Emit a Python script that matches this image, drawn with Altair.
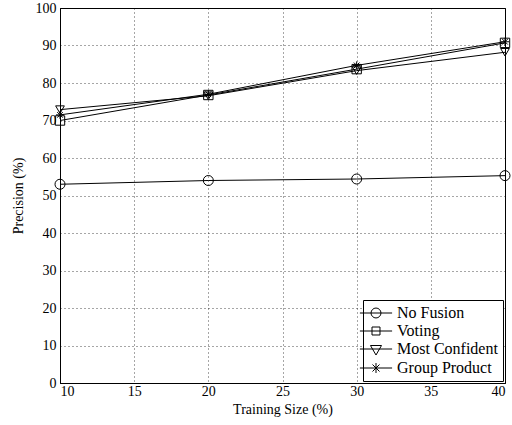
import altair as alt
import pandas as pd

training_size = [10, 20, 30, 40]
series_names = ["No Fusion", "Voting", "Most Confident", "Group Product"]
no_fusion = [53.0, 54.0, 54.4, 55.3]
voting = [70.0, 76.8, 83.7, 90.7]
most_confident = [72.9, 76.6, 83.3, 88.2]
group_product = [71.5, 77.0, 84.7, 91.0]

values = [no_fusion, voting, most_confident, group_product]
rows = []
for name, vals in zip(series_names, values):
    for xv, yv in zip(training_size, vals):
        rows.append({"size": xv, "precision": yv, "series": name})
df = pd.DataFrame(rows)

asterisk = "M-1,0L1,0M0,-1L0,1M-0.7,-0.7L0.7,0.7M-0.7,0.7L0.7,-0.7"
point_shapes = ["circle", "square", "triangle-down", asterisk]
point_sizes = [100, 64, 120, 100]

# legend symbols: line through marker (unit = 7px)
L = "M-2.3,0L2.3,0"
leg_shapes = [
    L + "M0.71,0A0.71,0.71 0 1,1 -0.71,0A0.71,0.71 0 1,1 0.71,0",
    L + "M-0.57,-0.57L0.57,-0.57L0.57,0.57L-0.57,0.57Z",
    L + "M-0.79,-0.5L0.79,-0.5L0,0.86Z",
    L + "M0,-0.71L0,0.71M-0.5,-0.5L0.5,0.5M-0.5,0.5L0.5,-0.5",
]

x_enc = alt.X("size:Q", scale=alt.Scale(domain=[10, 40], nice=False),
              axis=alt.Axis(values=[10, 15, 20, 25, 30, 35, 40], title="Training Size (%)"))
y_enc = alt.Y("precision:Q", scale=alt.Scale(domain=[0, 100], nice=False),
              axis=alt.Axis(values=list(range(0, 101, 10)), title="Precision (%)"))

base = alt.Chart(df)

lines = base.mark_line(color="black", strokeWidth=1).encode(
    x=x_enc, y=y_enc, detail="series:N"
)

points = base.mark_point(filled=False, color="black", strokeWidth=1, opacity=1).encode(
    x=x_enc, y=y_enc,
    shape=alt.Shape("series:N", scale=alt.Scale(domain=series_names, range=point_shapes), legend=None),
    size=alt.Size("series:N", scale=alt.Scale(domain=series_names, range=point_sizes), legend=None),
)

legend_layer = base.transform_filter("false").mark_point(
    filled=False, color="black", strokeWidth=1, opacity=1
).encode(
    x=x_enc, y=y_enc,
    shape=alt.Shape(
        "series:N",
        scale=alt.Scale(domain=series_names, range=leg_shapes),
        legend=alt.Legend(
            title=None, orient="bottom-right", offset=2,
            fillColor="white", strokeColor="black", padding=5,
            symbolSize=196, symbolStrokeWidth=1, symbolStrokeColor="black",
            symbolFillColor="transparent", symbolType="circle",
            labelFont="Liberation Serif", labelFontSize=16, labelColor="black",
            labelOffset=13, rowPadding=2, labelLimit=300,
        ),
    ),
)

chart = alt.layer(lines, points, legend_layer).resolve_scale(
    shape="independent", size="independent"
).properties(
    width=445, height=375,
    autosize=alt.AutoSizeParams(type="none"),
    padding={"left": 60, "top": 8, "right": 7, "bottom": 42},
).configure_view(
    stroke="black", strokeWidth=1
).configure_axis(
    labelFont="Liberation Serif", labelFontSize=14, labelColor="black",
    titleFont="Liberation Serif", titleFontSize=14, titleFontWeight="normal", titleColor="black",
    domainColor="black", domainWidth=1, ticks=False, labelPadding=4,
    grid=True, gridColor="black", gridDash=[1, 3], gridOpacity=0.7, gridWidth=1,
).configure_axisX(
    titlePadding=4, labelPadding=1
).configure_axisY(
    titlePadding=10, labelPadding=4
)

chart.save("out.html", embed_options={"renderer": "svg", "actions": False})
